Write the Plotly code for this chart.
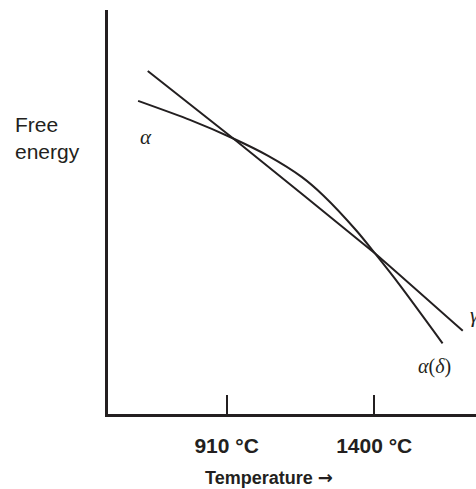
import plotly.graph_objects as go

# Temperature (°C) and free energy (arbitrary units)
gamma_T = [648, 932, 1402, 1694]
gamma_G = [84.9, 68.2, 39.8, 20.6]

alpha_T = [616, 788, 932, 1048, 1159, 1231, 1342, 1402, 1485, 1627]
alpha_G = [77.5, 72.8, 68.2, 63.9, 58.7, 54.1, 45.3, 39.8, 31.9, 17.5]

tick_vals = [910, 1400]
tick_text = ["910 °C", "1400 °C"]

INK = "#231f20"
SANS = "Liberation Sans, Arial, sans-serif"
SERIF = "Liberation Serif, Times New Roman, serif"

fig = go.Figure()
fig.add_trace(go.Scatter(x=gamma_T, y=gamma_G, mode="lines",
                         line=dict(color=INK, width=2, shape="spline", smoothing=0.3),
                         hoverinfo="skip", showlegend=False))
fig.add_trace(go.Scatter(x=alpha_T, y=alpha_G, mode="lines",
                         line=dict(color=INK, width=2, shape="spline", smoothing=0.7),
                         hoverinfo="skip", showlegend=False))

annots = [
    dict(x=642, y=68.6, xref="x", yref="y", text="<i>α</i>", showarrow=False,
         font=dict(family=SERIF, size=21, color=INK)),
    dict(x=1599, y=11.7, xref="x", yref="y", text="<i>α</i>(<i>δ</i>)", showarrow=False,
         font=dict(family=SERIF, size=20, color=INK)),
    dict(x=1712, y=24.5, xref="x", yref="y", text="<i>γ</i>", showarrow=False,
         xanchor="left", font=dict(family=SERIF, size=21, color=INK)),
    dict(x=0, xshift=-95, y=68.4, xref="paper", yref="y", text="Free<br>energy",
         showarrow=False, xanchor="left", yanchor="middle", align="left",
         font=dict(family=SANS, size=21, color=INK)),
    dict(x=(269 - 108) / 368, y=0, yshift=-63, xref="paper", yref="paper",
         text="<b>Temperature <span style=\"font-family:DejaVu Sans\">→</span></b>",
         showarrow=False, yanchor="middle",
         font=dict(family=SANS, size=18, color=INK)),
]
fig.update_layout(annotations=annots)

fig.update_xaxes(range=[516, 1738], showline=True, linecolor=INK, linewidth=2.5,
                 showgrid=False, zeroline=False, ticks="inside", ticklen=19,
                 tickwidth=2, tickcolor=INK, tickvals=tick_vals,
                 ticktext=["<b>%s</b>" % t for t in tick_text],
                 tickfont=dict(family=SANS, size=21, color=INK),
                 ticklabelstandoff=11)
fig.update_yaxes(range=[0, 100], showline=True, linecolor=INK, linewidth=2.5,
                 showgrid=False, zeroline=False, showticklabels=False, ticks="")

fig.update_layout(width=476, height=489, margin=dict(l=108, r=0, t=10, b=75),
                  plot_bgcolor="white", paper_bgcolor="white")

fig.write_html("out.html", config={"displayModeBar": False},
               post_script="document.body.style.margin='0';")
